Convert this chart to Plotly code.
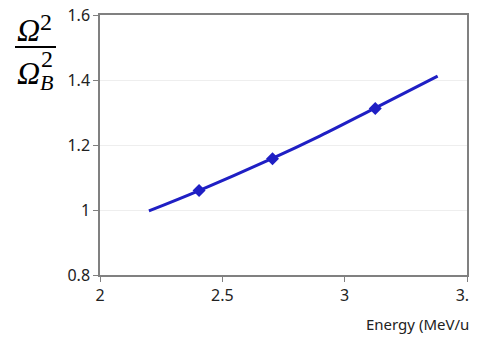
import plotly.graph_objects as go

# Data
energy_curve = [2.2, 2.4, 2.7, 2.9, 3.12, 3.38]
ratio_curve = [0.997, 1.058, 1.157, 1.228, 1.312, 1.412]
energy_pts = [2.405, 2.705, 3.125]
ratio_pts = [1.060, 1.158, 1.312]

x_ticks = [2, 2.5, 3, 3.5]
y_ticks = [0.8, 1, 1.2, 1.4, 1.6]

# The page body has an 8px default margin, so the figure is offset by it.
OFF = 8
W, H = 477 - OFF, 338 - OFF
L, R, T, B = 100 - OFF, 10, 15 - OFF, 63
pw, ph = W - L - R, H - T - B


def px(x):
    # x given in window pixels
    return (x - OFF - L) / pw


def py(y):
    return (H - B - (y - OFF)) / ph


fig = go.Figure()
fig.add_trace(go.Scatter(x=energy_curve, y=ratio_curve, mode="lines",
                         line=dict(color="#1f1fc4", width=3, shape="spline"),
                         showlegend=False, hoverinfo="skip"))
fig.add_trace(go.Scatter(x=energy_pts, y=ratio_pts, mode="markers",
                         marker=dict(symbol="diamond", size=10, color="#1f1fc4"),
                         showlegend=False))

serif = dict(family="Liberation Serif", size=32, color="black")
sup = dict(family="Liberation Serif", size=24, color="black")
sub = dict(family="Liberation Serif", size=22, color="black")
anns = [
    dict(x=px(28), y=py(30), text="<i>Ω</i>", font=serif),
    dict(x=px(46), y=py(22), text="2", font=sup),
    dict(x=px(28), y=py(73), text="<i>Ω</i>", font=serif),
    dict(x=px(47), y=py(59), text="2", font=sup),
    dict(x=px(46), y=py(83), text="<i>B</i>", font=sub),
    dict(x=px(364), y=py(324), text="Energy (MeV/u)", xanchor="left",
         font=dict(family="Noto Sans", size=15, color="#222")),
]
for a in anns:
    a.setdefault("xanchor", "center")
    a.update(xref="paper", yref="paper", yanchor="middle", showarrow=False)
    fig.add_annotation(**a)

fig.add_shape(type="line", xref="paper", yref="paper",
              x0=px(15), x1=px(56), y0=py(47), y1=py(47),
              line=dict(color="black", width=2))

fig.update_layout(
    width=W, height=H,
    margin=dict(l=L, r=R, t=T, b=B, autoexpand=False),
    paper_bgcolor="white", plot_bgcolor="white",
    font=dict(family="Noto Sans", size=16, color="#222"),
    xaxis=dict(range=[2, 3.5], tickvals=x_ticks, ticktext=["2", "2.5", "3", "3.5"],
               showgrid=False, zeroline=False, showline=True, linecolor="#808080",
               linewidth=1.5, mirror=True, ticks="outside", ticklen=5,
               tickcolor="#808080", ticklabeloverflow="allow", automargin=False),
    yaxis=dict(range=[0.8, 1.6], tickvals=y_ticks, ticktext=["0.8", "1", "1.2", "1.4", "1.6"],
               showgrid=True, gridcolor="#eeeeee", zeroline=False, showline=True,
               linecolor="#808080", linewidth=1.5, mirror=True, ticks="outside",
               ticklen=5, tickcolor="#808080", ticklabeloverflow="allow", automargin=False),
)

fig.write_html("out.html")
